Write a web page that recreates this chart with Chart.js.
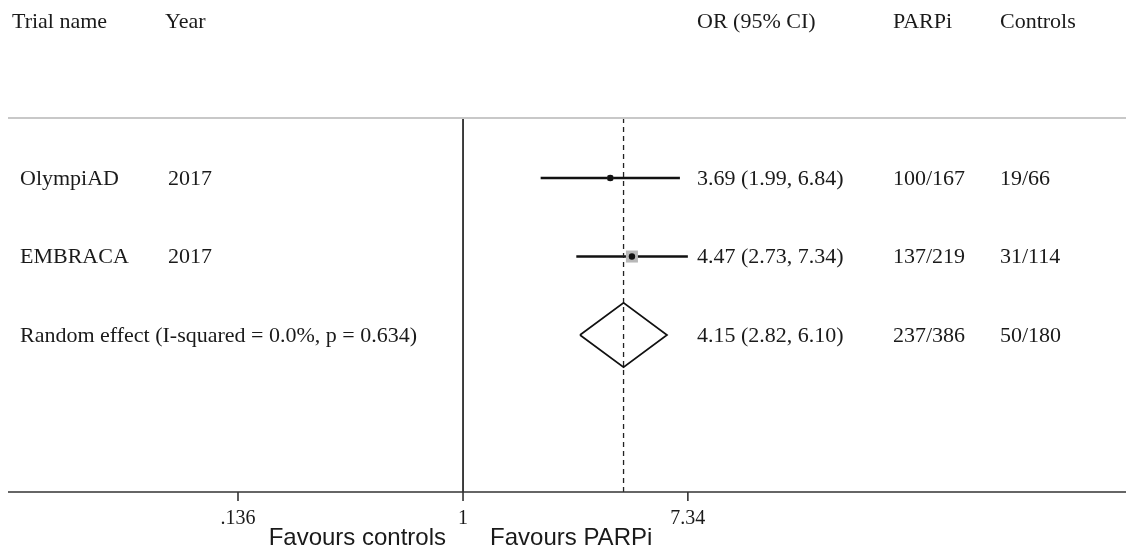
<!DOCTYPE html>
<html lang="en">
<head>
    <meta charset="UTF-8">
    <title>Forest plot</title>
    <script src="https://cdn.jsdelivr.net/npm/chart.js"></script>
    <style>
        body { margin: 0; background: #fff; }
        canvas { display: block; }
    </style>
</head>
<body>
    <canvas id="forest" width="1126" height="547"></canvas>
    <script>
        // data
        const trials = ['OlympiAD', 'EMBRACA'];
        const years = ['2017', '2017'];
        const orEst = [3.69, 4.47];
        const orLow = [1.99, 2.73];
        const orHigh = [6.84, 7.34];
        const pooledLabel = 'Random effect (I-squared = 0.0%, p = 0.634)';
        const pooled = [4.15, 2.82, 6.10]; // estimate, low, high
        const parpi = ['100/167', '137/219', '237/386'];
        const controls = ['19/66', '31/114', '50/180'];
        const headers = ['Trial name', 'Year', 'OR (95% CI)', 'PARPi', 'Controls'];
        const xTicks = [0.136, 1, 7.34];
        const xTickLabels = ['.136', '1', '7.34'];

        const Y_MIN = 0.235, Y_MAX = 5;
        const pooledRow = trials.length + 1;

        function fmt(v) { return v.toFixed(2); }

        // lower "order" is drawn on top
        const datasets = [];
        trials.forEach((t, i) => {
            datasets.push({
                type: 'scatter', showLine: true, order: 5,
                data: [{x: orLow[i], y: i + 1}, {x: orHigh[i], y: i + 1}],
                borderColor: '#111', borderWidth: 2.4, pointRadius: 0
            });
        });
        // weight boxes
        datasets.push({
            type: 'scatter', order: 4,
            data: trials.map((t, i) => ({x: orEst[i], y: i + 1})),
            pointStyle: 'rect', pointRadius: [4, 8.5],
            backgroundColor: ['#9a9a9a', '#b8b8b8'], borderWidth: 0
        });
        // point estimates
        datasets.push({
            type: 'scatter', order: 1,
            data: trials.map((t, i) => ({x: orEst[i], y: i + 1})),
            pointRadius: 3.2, backgroundColor: '#111', borderWidth: 0
        });
        // pooled diamond
        datasets.push({
            type: 'scatter', showLine: true, fill: false, tension: 0, order: 2,
            data: [
                {x: pooled[1], y: pooledRow},
                {x: pooled[0], y: pooledRow - 0.41},
                {x: pooled[2], y: pooledRow},
                {x: pooled[0], y: pooledRow + 0.41},
                {x: pooled[1], y: pooledRow}
            ],
            borderColor: '#111', borderWidth: 1.7, pointRadius: 0
        });
        // line of no effect
        datasets.push({
            type: 'scatter', showLine: true, order: 3,
            data: [{x: 1, y: Y_MIN}, {x: 1, y: Y_MAX}],
            borderColor: '#111', borderWidth: 1.6, pointRadius: 0
        });
        // pooled estimate dashed line
        datasets.push({
            type: 'scatter', showLine: true, order: 3,
            data: [{x: pooled[0], y: Y_MIN}, {x: pooled[0], y: Y_MAX}],
            borderColor: '#222', borderWidth: 1.3, borderDash: [5, 4], pointRadius: 0
        });

        const textPlugin = {
            id: 'forestText',
            afterDatasetsDraw(chart) {
                const ctx = chart.ctx;
                const area = chart.chartArea;
                const xs = chart.scales.x;
                const ys = chart.scales.y;
                ctx.save();

                // top rule and x axis
                ctx.strokeStyle = '#c8c8c8';
                ctx.lineWidth = 2;
                ctx.beginPath();
                ctx.moveTo(area.left, area.top);
                ctx.lineTo(area.right, area.top);
                ctx.stroke();
                ctx.strokeStyle = '#333';
                ctx.lineWidth = 1.6;
                ctx.beginPath();
                ctx.moveTo(area.left, area.bottom);
                ctx.lineTo(area.right, area.bottom);
                ctx.stroke();

                // ticks
                ctx.fillStyle = '#1a1a1a';
                ctx.font = '20px "Liberation Serif", serif';
                ctx.textAlign = 'center';
                ctx.textBaseline = 'middle';
                xTicks.forEach((t, i) => {
                    const px = xs.getPixelForValue(t);
                    ctx.beginPath();
                    ctx.moveTo(px, area.bottom);
                    ctx.lineTo(px, area.bottom + 9);
                    ctx.stroke();
                    ctx.fillText(xTickLabels[i], px, area.bottom + 27);
                });

                const one = xs.getPixelForValue(1);
                ctx.font = '24px "Liberation Sans", Arial, sans-serif';
                ctx.textBaseline = 'alphabetic';
                ctx.textAlign = 'right';
                ctx.fillText('Favours controls', one - 17, 545);
                ctx.textAlign = 'left';
                ctx.fillText('Favours PARPi', one + 27, 545);

                // header row and table columns
                ctx.font = '22px "Liberation Serif", "Times New Roman", serif';
                ctx.textBaseline = 'middle';
                ctx.textAlign = 'left';
                const colX = [12, 165, 697, 893, 1000];
                headers.forEach((h, i) => ctx.fillText(h, colX[i], 22));

                trials.forEach((t, i) => {
                    const py = ys.getPixelForValue(i + 1) + 1;
                    ctx.fillText(t, 20, py);
                    ctx.fillText(years[i], 168, py);
                    ctx.fillText(fmt(orEst[i]) + ' (' + fmt(orLow[i]) + ', ' + fmt(orHigh[i]) + ')', 697, py);
                    ctx.fillText(parpi[i], 893, py);
                    ctx.fillText(controls[i], 1000, py);
                });
                const pr = ys.getPixelForValue(pooledRow) + 1;
                ctx.fillText(pooledLabel, 20, pr);
                ctx.fillText(fmt(pooled[0]) + ' (' + fmt(pooled[1]) + ', ' + fmt(pooled[2]) + ')', 697, pr);
                ctx.fillText(parpi[2], 893, pr);
                ctx.fillText(controls[2], 1000, pr);

                ctx.restore();
            }
        };

        new Chart(document.getElementById('forest').getContext('2d'), {
            type: 'scatter',
            data: { datasets: datasets },
            options: {
                responsive: false,
                animation: false,
                layout: { autoPadding: false, padding: { left: 8, right: 0, top: 118, bottom: 55 } },
                plugins: { legend: { display: false }, tooltip: { enabled: false } },
                scales: {
                    x: { type: 'logarithmic', min: 0.0177, max: 357, bounds: 'data', display: false },
                    y: { type: 'linear', min: Y_MIN, max: Y_MAX, reverse: true, bounds: 'data', display: false }
                }
            },
            plugins: [textPlugin]
        });
    </script>
</body>
</html>
